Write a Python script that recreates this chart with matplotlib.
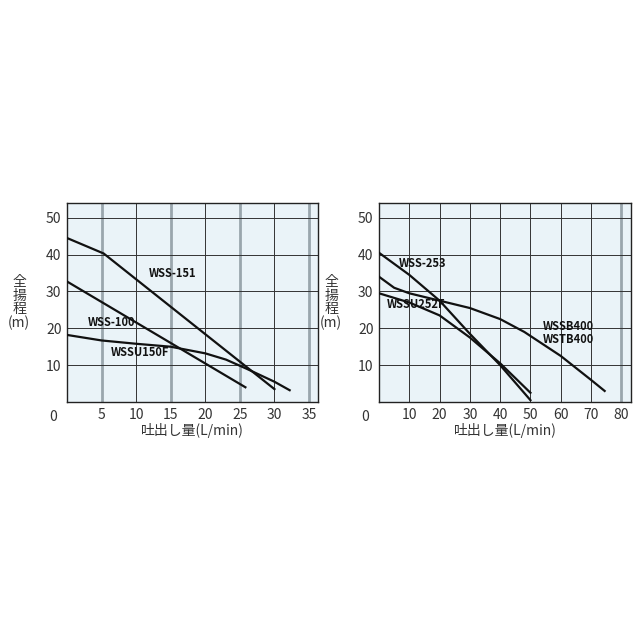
import matplotlib
matplotlib.use("Agg")
import matplotlib.pyplot as plt
import numpy as np

plt.rcParams['font.family'] = ['Noto Sans CJK JP', 'DejaVu Sans']

wss151_x = [0, 5.3, 30]; wss151_y = [44.5, 40.3, 3.5]
wss100_x = [0, 25.8]; wss100_y = [32.7, 4]
wssu150_x = [0, 5, 10, 15, 20, 23, 26, 30, 32.2]
wssu150_y = [18.2, 16.7, 15.8, 15, 13.2, 11.5, 9, 5.5, 3.2]
wss253_x = [0, 10, 20, 30, 40, 50]; wss253_y = [40.5, 34.5, 27.5, 18.5, 10, 0.5]
wssu252_x = [0, 10, 20, 30, 40, 50]; wssu252_y = [29.5, 27, 23.5, 17.5, 10.5, 2.5]
wssb400_x = [0, 5, 10, 20, 30, 40, 48, 60, 70, 74.5]
wssb400_y = [34, 31, 29.5, 27.5, 25.5, 22.5, 19, 12.5, 6, 3]

fig = plt.figure(figsize=(6.4, 6.4), dpi=100)
bg = '#eaf3f8'
tc = '#333333'

def setup(ax, xmax, xticks, gray_x):
    ax.set_facecolor(bg)
    ax.set_xlim(0, xmax); ax.set_ylim(0, 54)
    for x in xticks[1:]:
        if x in gray_x:
            ax.axvline(x, color='#9aa6ad', lw=2, zorder=1)
        else:
            ax.axvline(x, color='#333333', lw=0.7, zorder=1)
    for y in [10, 20, 30, 40, 50]:
        ax.axhline(y, color='#333333', lw=0.7, zorder=1)
    ax.set_xticks(xticks); ax.set_yticks([10, 20, 30, 40, 50])
    ax.tick_params(length=0, labelsize=10, colors=tc, pad=4)
    for s in ax.spines.values():
        s.set_color('#222222'); s.set_linewidth(1)
    ax.set_xlabel('吐出し量(L/min)', fontsize=10, color=tc, labelpad=1)
    ax.text(-0.19, 0.5, '全\n揚\n程\n(m)', transform=ax.transAxes, ha='center', va='center',
            fontsize=10, color=tc, linespacing=0.95)
    ax.text(-0.04, -0.04, '0', transform=ax.transAxes, ha='right', va='top', fontsize=10, color=tc)

ax1 = fig.add_axes([67/640, 1-402/640, 251/640, 199/640])
setup(ax1, 36.3, [0, 5, 10, 15, 20, 25, 30, 35], [5, 15, 25, 35])
ax1.set_xticklabels(['', '5', '10', '15', '20', '25', '30', '35'])
kw = dict(color='#111111', lw=1.6, zorder=3)
ax1.plot(wss151_x, wss151_y, **kw)
ax1.plot(wss100_x, wss100_y, **kw)
ax1.plot(wssu150_x, wssu150_y, **kw)
lk = dict(fontsize=8, fontweight='bold', color='#111111', zorder=4)
ax1.text(11.8, 34, 'WSS-151', **lk)
ax1.text(3, 20.5, 'WSS-100', **lk)
ax1.text(6.4, 12.5, 'WSSU150F', **lk)

ax2 = fig.add_axes([379/640, 1-402/640, 252/640, 199/640])
setup(ax2, 83.2, [0, 10, 20, 30, 40, 50, 60, 70, 80], [80])
ax2.set_xticklabels(['', '10', '20', '30', '40', '50', '60', '70', '80'])
ax2.plot(wss253_x, wss253_y, **kw)
ax2.plot(wssu252_x, wssu252_y, **kw)
ax2.plot(wssb400_x, wssb400_y, **kw)
ax2.text(6.5, 36.5, 'WSS-253', **lk)
ax2.text(2.5, 25.5, 'WSSU252F', **lk)
ax2.text(54, 19.5, 'WSSB400', **lk)
ax2.text(54, 16, 'WSTB400', **lk)

fig.savefig('out.png', dpi=100, facecolor='white')
